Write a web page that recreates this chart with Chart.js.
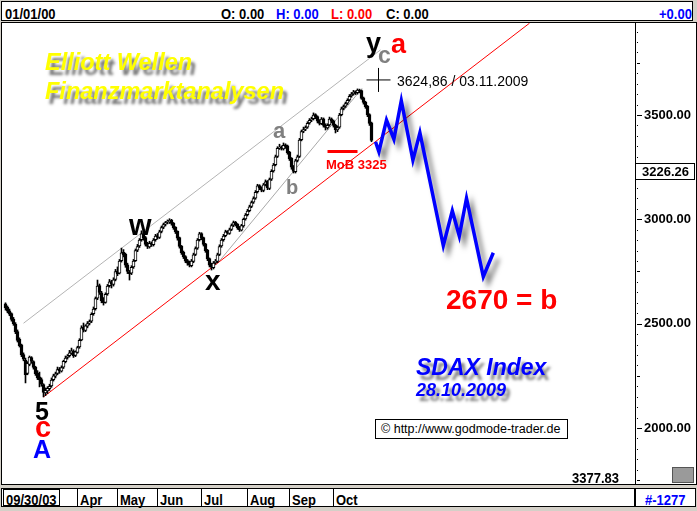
<!DOCTYPE html>
<html lang="de">
<head>
<meta charset="UTF-8">
<title>SDAX Index - Elliott Wellen</title>
<script src="https://cdn.jsdelivr.net/npm/chart.js"></script>
<style>
  body { margin:0; width:697px; height:511px; background:#d4d0c8; position:relative; overflow:hidden;
         font-family:"Liberation Sans", Arial, sans-serif; }
  .box { position:absolute; background:#fff; border:1px solid #000; box-sizing:border-box; }
  .t { position:absolute; white-space:nowrap; line-height:1; }
  .bar { font:bold 13px "Liberation Sans", Arial, sans-serif; transform:scaleY(1.15); transform-origin:0 0; }
  .title { color:#ffff00; font:italic bold 23.5px "Liberation Sans", Arial, sans-serif; text-shadow:4px 5px 3px rgba(0,0,0,0.55); }
  .blue { color:#0000ff; font-style:italic; font-weight:bold; text-shadow:4px 5px 3px rgba(0,0,0,0.5); }
  .w { font-weight:bold; }
  #plot { left:1px; top:22px; width:696px; height:463px; }
  #plot canvas { position:absolute; left:0; top:0; }
  .sep { position:absolute; top:0; width:1px; height:100%; background:#000; }
</style>
</head>
<body>
  <div class="box" style="left:1px;top:1px;width:692px;height:20px"></div>
  <div class="t bar" style="left:5px;top:5px">01/01/00</div>
  <div class="t bar" style="left:221px;top:5px">O: 0.00</div>
  <div class="t bar" style="left:276px;top:5px;color:#0000ff">H: 0.00</div>
  <div class="t bar" style="left:331px;top:5px;color:#ff0000">L: 0.00</div>
  <div class="t bar" style="left:386px;top:5px">C: 0.00</div>
  <div class="t bar" style="left:659px;top:5px;color:#0000ff">+0.00</div>

  <div class="box" id="plot">
    <canvas id="chart" width="694" height="461"></canvas>
  </div>

  <div class="box" id="bottom" style="left:1px;top:488px;width:634px;height:19px">
    <div class="box" style="left:1px;top:0px;width:57px;height:17px"></div>
    <div class="t bar" style="left:4px;top:2px">09/30/03</div>
  </div>
  <div class="box" style="left:635px;top:488px;width:61px;height:19px"></div>
  <div class="t bar" style="left:645px;top:491px;color:#0000ff">#-1277</div>
  <div style="position:absolute;left:672px;top:467px;width:22px;height:16px;background:#9a9a9a;border:1px solid #555;box-sizing:border-box"></div>

  <!-- annotations -->
  <div class="t title" style="left:45px;top:49px">Elliott Wellen</div>
  <div class="t title" style="left:45px;top:78px">Finanzmarktanalysen</div>
  <div class="t blue" style="left:416px;top:356px;font-size:23px">SDAX Index</div>
  <div class="t blue" style="left:416px;top:381px;font-size:18px">28.10.2009</div>
  <div class="t w" style="left:446px;top:286px;font-size:28px;color:#ff0000">2670 = b</div>
  <div class="box t" style="left:375px;top:419px;width:193px;height:20px;font-size:12.5px;padding:3px 0 0 5px">© http://www.godmode-trader.de</div>
  <div class="t bar" style="left:572px;top:469px">3377.83</div>
  <div class="t" style="left:397px;top:74px;font-size:14px">3624,86 / 03.11.2009</div>
  <div class="t w" style="left:326px;top:158px;font-size:13px;color:#ff0000">MoB 3325</div>

  <div class="t w" style="left:35px;top:399px;font-size:25px">5</div>
  <div class="t w" style="left:35px;top:413px;font-size:29px;color:#ff0000">c</div>
  <div class="t w" style="left:33px;top:437px;font-size:25px;color:#0000ff">A</div>
  <div class="t w" style="left:129px;top:211px;font-size:29px">w</div>
  <div class="t w" style="left:205px;top:267px;font-size:28px">x</div>
  <div class="t w" style="left:273px;top:120px;font-size:22px;color:#808080">a</div>
  <div class="t w" style="left:286px;top:177px;font-size:20px;color:#808080">b</div>
  <div class="t w" style="left:366px;top:30px;font-size:27px">y</div>
  <div class="t w" style="left:378px;top:44px;font-size:23px;color:#808080">c</div>
  <div class="t w" style="left:391px;top:31px;font-size:27px;color:#ff0000">a</div>

<script>
// month start positions (trading day index) for the bottom bar
const monthLabels = ['Apr', 'May', 'Jun', 'Jul', 'Aug', 'Sep', 'Oct'];
const monthStart = [36, 56, 76, 98, 121, 142, 164];

// daily candles, Feb - 28.10.2009
const opens = [
  2595,2578,2562,2548,2522,2498,2462,2425,2398,2352,
  2325,2262,2305,2338,2318,2292,2262,2245,2232,2208,
  2168,2178,2188,2202,2232,2248,2262,2282,2272,2292,
  2318,2338,2347,2358,2368,2348,2362,2388,2422,2482,
  2468,2488,2502,2512,2548,2572,2622,2682,2648,2612,
  2602,2642,2682,2702,2688,2712,2752,2742,2802,2842,
  2832,2782,2748,2742,2772,2802,2852,2872,2902,2932,
  2912,2882,2868,2887,2878,2902,2922,2913,2942,2962,
  2977,2987,2988,2997,2982,2962,2942,2912,2872,2842,
  2822,2802,2792,2778,2798,2832,2862,2902,2932,2912,
  2882,2852,2812,2782,2768,2792,2798,2832,2872,2902,
  2922,2942,2933,2952,2972,2987,2977,2962,2948,2968,
  3002,3022,3042,3062,3082,3102,3132,3162,3152,3138,
  3167,3182,3148,3192,3232,3262,3302,3342,3347,3338,
  3357,3352,3322,3292,3252,3228,3282,3302,3382,3422,
  3432,3442,3462,3477,3482,3502,3492,3472,3458,3482,
  3452,3438,3452,3482,3472,3452,3428,3442,3502,3532,
  3542,3557,3572,3592,3602,3612,3607,3618,3617,3582,
  3562,3542,3502,3462
];
const highs = [
  2600,2585,2570,2552,2530,2505,2470,2432,2402,2360,
  2335,2318,2345,2342,2322,2296,2275,2268,2240,2212,
  2192,2198,2210,2240,2258,2268,2292,2290,2298,2325,
  2345,2352,2372,2383,2375,2370,2392,2428,2490,2503,
  2495,2510,2518,2552,2580,2628,2709,2690,2655,2625,
  2648,2688,2712,2708,2720,2760,2772,2808,2862,2855,
  2838,2790,2755,2778,2808,2858,2880,2908,2945,2940,
  2918,2890,2895,2892,2908,2928,2932,2948,2968,2982,
  2990,2997,3003,3000,2985,2965,2945,2915,2875,2848,
  2826,2808,2800,2808,2838,2868,2908,2938,2936,2915,
  2885,2856,2815,2790,2798,2808,2838,2878,2908,2928,
  2948,2946,2958,2978,2992,2990,2980,2966,2976,3006,
  3028,3048,3068,3088,3108,3138,3168,3166,3156,3172,
  3189,3186,3198,3238,3268,3308,3348,3360,3352,3366,
  3362,3356,3326,3296,3258,3288,3308,3388,3428,3442,
  3448,3468,3483,3490,3510,3506,3496,3478,3488,3486,
  3458,3458,3490,3486,3476,3456,3448,3508,3538,3548,
  3562,3578,3598,3608,3618,3616,3625,3624,3620,3586,
  3566,3546,3506,3466
];
const lows = [
  2565,2552,2538,2512,2492,2452,2412,2388,2342,2322,
  2216,2255,2298,2310,2282,2252,2232,2197,2200,2149,
  2155,2165,2180,2195,2225,2240,2255,2262,2268,2285,
  2312,2330,2340,2352,2338,2342,2358,2382,2418,2460,
  2462,2480,2494,2505,2540,2565,2615,2640,2600,2589,
  2598,2636,2675,2671,2680,2705,2730,2738,2795,2820,
  2770,2740,2709,2735,2765,2798,2845,2865,2895,2900,
  2872,2860,2862,2870,2872,2895,2905,2908,2935,2955,
  2968,2978,2980,2972,2952,2932,2900,2862,2832,2812,
  2792,2780,2772,2772,2792,2826,2856,2896,2902,2872,
  2842,2802,2772,2757,2762,2785,2792,2826,2866,2895,
  2916,2928,2928,2946,2965,2968,2952,2942,2944,2962,
  2996,3016,3036,3056,3076,3096,3126,3142,3132,3132,
  3160,3142,3142,3186,3226,3256,3296,3335,3332,3332,
  3340,3312,3282,3240,3222,3222,3275,3296,3376,3415,
  3425,3436,3456,3468,3476,3482,3462,3452,3454,3442,
  3428,3432,3446,3462,3442,3414,3420,3436,3496,3525,
  3536,3550,3566,3585,3595,3598,3600,3606,3575,3552,
  3532,3492,3450,3372
];
const closes = [
  2575,2560,2545,2520,2500,2460,2420,2395,2350,2330,
  2255,2310,2340,2320,2290,2260,2240,2230,2210,2170,
  2180,2190,2200,2230,2250,2260,2280,2275,2290,2320,
  2335,2345,2360,2370,2345,2365,2385,2420,2480,2470,
  2490,2500,2510,2545,2570,2620,2680,2650,2610,2600,
  2640,2680,2700,2690,2710,2750,2740,2800,2840,2830,
  2780,2750,2740,2770,2800,2850,2870,2900,2930,2910,
  2880,2870,2885,2880,2900,2920,2915,2940,2960,2975,
  2985,2990,2995,2980,2960,2940,2910,2870,2840,2820,
  2800,2790,2780,2800,2830,2860,2900,2930,2910,2880,
  2850,2810,2780,2770,2790,2800,2830,2870,2900,2920,
  2940,2935,2950,2970,2985,2975,2960,2950,2970,3000,
  3020,3040,3060,3080,3100,3130,3160,3150,3140,3165,
  3180,3150,3190,3230,3260,3300,3340,3345,3340,3355,
  3350,3320,3290,3250,3230,3280,3300,3380,3420,3430,
  3440,3460,3475,3480,3500,3490,3470,3460,3480,3450,
  3440,3450,3480,3470,3450,3430,3440,3500,3530,3540,
  3555,3570,3590,3600,3610,3605,3620,3615,3580,3560,
  3540,3500,3460,3378
];

// forecast path (blue)
const forecastX = [185, 186.7, 190.5, 194.2, 197.9, 203.7, 207.2, 218.9, 223.4, 226.9, 230.5, 238.9, 243.9];
const forecastY = [3372, 3324, 3476, 3384, 3569, 3284, 3415, 2874, 3041, 2920, 3101, 2725, 2840];

// trend lines
const lowerChannelX = [19, 262];
const lowerChannelY = [2149, 3940];
const upperChannelX = [9, 187.5];
const upperChannelY = [2502, 3812];
const innerLineX = [106, 178.3];
const innerLineY = [2789, 3628];
const mobX = [161, 176];
const mobY = [3325, 3325];
const highMarkX = [186.5];
const highMarkY = [3668];
const lastValue = 3226.26;

const yLabelValues = [2000, 2500, 3000, 3500];

const pts = (xs, ys) => xs.map((x, i) => ({ x: x, y: ys[i] }));
const upColor = closes.map((c, i) => c >= opens[i] ? '#ffffff' : '#000000');

// tick marks on the price axis and the last value box
const axisMarks = {
  id: 'axisMarks',
  afterDraw(chart) {
    const ctx = chart.ctx, y = chart.scales.y;
    ctx.save();
    ctx.fillStyle = '#000';
    y.ticks.forEach(t => {
      const py = Math.round(y.getPixelForValue(t.value));
      const len = t.value % 500 === 0 ? 5 : (t.value % 250 === 0 ? 3 : 1);
      ctx.fillRect(y.left + 2, py, len, 1);
    });
    const py = Math.round(y.getPixelForValue(lastValue));
    ctx.fillStyle = '#fff';
    ctx.fillRect(y.left, py - 9, y.width - 1, 17);
    ctx.strokeStyle = '#000';
    ctx.lineWidth = 1;
    ctx.strokeRect(y.left + 0.5, py - 8.5, y.width - 2, 16);
    ctx.fillStyle = '#000';
    ctx.font = 'bold 13px "Liberation Sans", Arial, sans-serif';
    ctx.textAlign = 'center';
    ctx.textBaseline = 'middle';
    ctx.fillText(lastValue.toFixed(2), y.left + y.width / 2, py + 0.5);
    ctx.restore();
  }
};

// soft shadow for the forecast line
const shadow = {
  id: 'shadow',
  beforeDatasetDraw(chart, args) {
    if (!chart.data.datasets[args.index].shadow) return;
    const c = chart.ctx;
    c.save();
    c.shadowColor = 'rgba(0,0,0,0.5)';
    c.shadowBlur = 5;
    c.shadowOffsetX = 5;
    c.shadowOffsetY = 6;
  },
  afterDatasetDraw(chart, args) {
    if (chart.data.datasets[args.index].shadow) chart.ctx.restore();
  }
};

const chart = new Chart(document.getElementById('chart'), {
  type: 'bar',
  data: {
    datasets: [
      { type: 'line', data: pts(forecastX, forecastY), borderColor: '#0000ff', borderWidth: 3.5,
        pointRadius: 0, tension: 0, order: 0, shadow: true },
      { type: 'line', data: pts(mobX, mobY), borderColor: '#ff0000', borderWidth: 3, pointRadius: 0, order: 1 },
      { type: 'line', data: pts(highMarkX, highMarkY), showLine: false, pointStyle: 'cross', pointRadius: 12,
        pointBorderWidth: 1, borderColor: '#000', order: 1 },
      { data: closes.map((c, i) => ({ x: i, y: [opens[i], c] })), backgroundColor: upColor, borderColor: '#000',
        borderWidth: 1, borderSkipped: false, barThickness: 3, grouped: false, order: 4 },
      { data: highs.map((h, i) => ({ x: i, y: [lows[i], h] })), backgroundColor: '#000', borderWidth: 0,
        barThickness: 1, grouped: false, order: 5 },
      { type: 'line', data: pts(lowerChannelX, lowerChannelY), borderColor: '#ff0000', borderWidth: 1, pointRadius: 0, order: 6 },
      { type: 'line', data: pts(upperChannelX, upperChannelY), borderColor: '#b4b4b4', borderWidth: 1, pointRadius: 0, order: 6 },
      { type: 'line', data: pts(innerLineX, innerLineY), borderColor: '#a8a8a8', borderWidth: 1, pointRadius: 0, order: 6 }
    ]
  },
  options: {
    responsive: false,
    animation: false,
    events: [],
    layout: { padding: 0, autoPadding: false },
    plugins: { legend: { display: false }, tooltip: { enabled: false } },
    scales: {
      x: { type: 'linear', min: -1.75, max: 314.75, offset: false, display: false },
      y: {
        position: 'right',
        min: 1731.6,
        max: 3940.9,
        afterBuildTicks: s => {
          const t = [];
          for (let v = 1750; v <= 3900; v += 50) t.push({ value: v });
          s.ticks = t;
        },
        afterFit: s => { s.width = 61; s.paddingTop = 0; s.paddingBottom = 0; },
        border: { display: true, color: '#000', width: 1 },
        grid: { drawOnChartArea: false, drawTicks: false },
        ticks: {
          autoSkip: false,
          padding: 9,
          color: '#000',
          font: { family: '"Liberation Sans", Arial, sans-serif', size: 13, weight: 'bold' },
          callback: v => yLabelValues.includes(v) ? v.toFixed(2) : ''
        }
      }
    }
  },
  plugins: [shadow, axisMarks]
});

// month labels in the bottom bar, placed from the x scale
const bottom = document.getElementById('bottom');
monthLabels.forEach((m, k) => {
  const px = Math.round(chart.scales.x.getPixelForValue(monthStart[k]));
  const sep = document.createElement('div');
  sep.className = 'sep';
  sep.style.left = (px - 1) + 'px';
  bottom.appendChild(sep);
  const lab = document.createElement('div');
  lab.className = 't bar';
  lab.style.left = (px + 2) + 'px';
  lab.style.top = '2px';
  lab.textContent = m;
  bottom.appendChild(lab);
});
</script>
</body>
</html>
